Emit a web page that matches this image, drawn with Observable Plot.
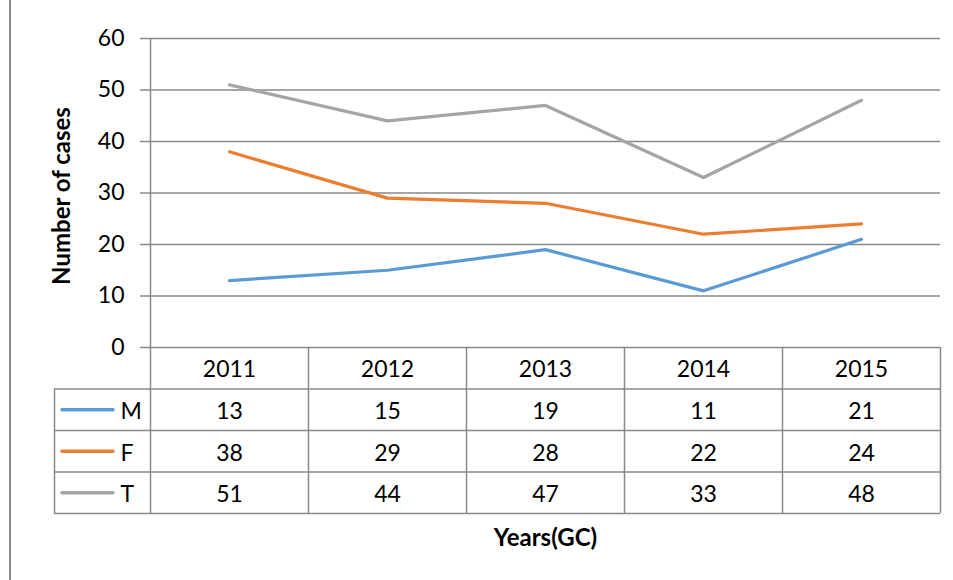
<!DOCTYPE html>
<html>
<head>
<meta charset="utf-8">
<script src="https://cdn.jsdelivr.net/npm/d3@7"></script>
<script src="https://cdn.jsdelivr.net/npm/@observablehq/plot@0.6"></script>
<style>
  body { margin: 0; background: #fff; }
  #wrap { position: relative; width: 953px; height: 580px; background: #fff; overflow: hidden; }
  #border { position: absolute; left: 9px; top: 0; width: 2px; height: 580px; background: #8c8c8c; }
  #chart, #table { position: absolute; left: 0; }
  #chart { top: 0; }
  #table { top: 347px; }
</style>
</head>
<body>
<div id="wrap">
  <div id="border"></div>
  <div id="chart"></div>
  <div id="table"></div>
</div>
<script>
// ---- data ----
const years = [2011, 2012, 2013, 2014, 2015];
const seriesNames = ["M", "F", "T"];
const mValues = [13, 15, 19, 11, 21];
const fValues = [38, 29, 28, 22, 24];
const tValues = [51, 44, 47, 33, 48];
const seriesColors = ["#5B9BD5", "#ED7D31", "#A5A5A5"];
const yTickCount = 6; // 0..60 by 10
const yTitle = "Number of cases";
const xTitle = "Years(GC)";

const valuesBySeries = [mValues, fValues, tValues];
const rows = [];
seriesNames.forEach((s, i) => years.forEach((yr, j) => rows.push({series: s, row: i, year: yr, value: valuesBySeries[i][j]})));
const yTicks = d3.ticks(0, 60, yTickCount);
const boundaries = years.map(y => y - 0.5).concat([years[years.length - 1] + 0.5]);

const grid = "#898989";
const font = {fontFamily: "Lato, 'Open Sans', sans-serif", fontSize: "23px", color: "#000", background: "transparent", overflow: "visible"};
const xDomain = [years[0] - 0.5, years[years.length - 1] + 0.5];
const colorScale = {domain: seriesNames, range: seriesColors};

// ---- chart ----
const chart = Plot.plot({
  width: 953,
  height: 350,
  marginTop: 38,
  marginBottom: 3,
  marginLeft: 150,
  marginRight: 13,
  style: font,
  x: {domain: xDomain, axis: null},
  y: {domain: [0, 60], ticks: yTickCount, tickSize: 0, tickPadding: 26, label: null},
  color: colorScale,
  marks: [
    Plot.ruleY(yTicks, {stroke: grid, strokeWidth: 1.5, insetLeft: -10}),
    Plot.ruleX([xDomain[0]], {stroke: grid, strokeWidth: 1.5}),
    Plot.line(rows, {x: "year", y: "value", z: "series", stroke: "series", strokeWidth: 3.2, strokeLinejoin: "round", strokeLinecap: "round"}),
    Plot.text([yTitle], {text: d => d, frameAnchor: "left", textAnchor: "middle", dx: -88, dy: 3, rotate: -90, fontWeight: "bold", fontSize: 24})
  ]
});
document.getElementById("chart").appendChild(chart);

// ---- data table ----
const table = Plot.plot({
  width: 953,
  height: 233,
  marginTop: 0,
  marginBottom: 67,
  marginLeft: 150,
  marginRight: 13,
  style: font,
  x: {domain: xDomain, axis: null},
  y: {domain: [0, 4], reverse: true, axis: null},
  color: colorScale,
  marks: [
    Plot.ruleX(boundaries, {stroke: grid, strokeWidth: 1.5}),
    Plot.ruleX([xDomain[0]], {y1: 1, y2: 4, dx: -96, stroke: grid, strokeWidth: 1.5}),
    Plot.ruleY([1, 2, 3, 4], {stroke: grid, strokeWidth: 1.5, insetLeft: -96}),
    Plot.text(years, {x: d => d, y: 0.5, dy: 1, text: d => String(d)}),
    Plot.text(rows, {x: "year", y: d => d.row + 1.5, dy: 2, text: d => String(d.value)}),
    Plot.ruleY(seriesNames, {y: (d, i) => i + 1.5, x1: xDomain[0], x2: xDomain[0], insetLeft: -88, insetRight: 37, stroke: d => d, strokeWidth: 3.4, strokeLinecap: "round"}),
    Plot.text(seriesNames, {x: xDomain[0], y: (d, i) => i + 1.5, dx: -30, dy: 2, textAnchor: "start", text: d => d}),
    Plot.text([xTitle], {text: d => d, frameAnchor: "bottom", dy: 32, fontWeight: "bold", fontSize: 24})
  ]
});
document.getElementById("table").appendChild(table);
</script>
</body>
</html>
